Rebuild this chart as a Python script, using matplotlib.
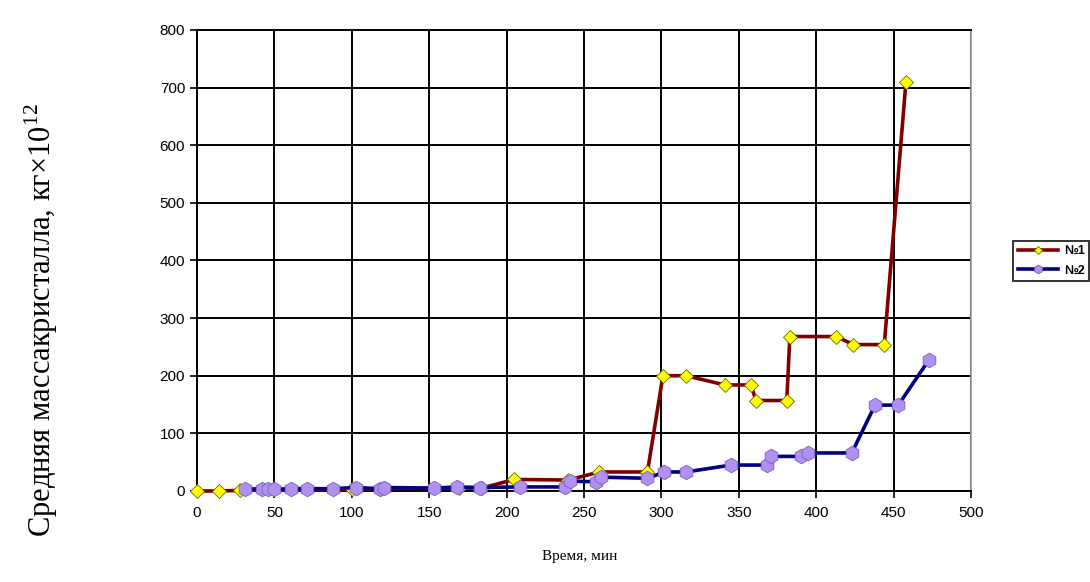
import matplotlib
matplotlib.use("Agg")
import matplotlib.pyplot as plt

plt.rcParams["font.family"] = "Liberation Sans"
plt.rcParams["mathtext.fontset"] = "custom"
plt.rcParams["mathtext.rm"] = "Liberation Serif"

# ── data ──────────────────────────────────────────────────────────────────────
t1 = [0, 14, 28, 100, 118, 169, 184, 205, 240, 260, 291, 301, 316, 341, 358,
      361, 381, 383, 413, 424, 444, 458]
m1 = [0, 0, 1, 3, 4, 5, 5, 20, 19, 33, 33, 200, 200, 184, 184,
      157, 157, 268, 268, 254, 254, 710]

t2 = [31, 42, 46, 50, 61, 71, 88, 103, 118, 121, 153, 168, 183, 209, 238, 241,
      258, 261, 291, 302, 316, 345, 368, 371, 390, 395, 423, 438, 453, 473]
m2 = [3, 4, 4, 3, 4, 4, 4, 6, 4, 6, 5, 7, 6, 7, 7, 17,
      16, 24, 22, 33, 33, 45, 45, 60, 60, 66, 66, 149, 149, 228]

names = ["№1", "№2"]
x_ticks = list(range(0, 501, 50))
y_ticks = list(range(0, 801, 100))

# ── layout ────────────────────────────────────────────────────────────────────
fig = plt.figure(figsize=(10.9, 5.82), dpi=100)
ax = fig.add_axes([0.1807, 0.1564, 0.8908 - 0.1807, 0.9485 - 0.1564])

ax.plot(t1, m1, color="#800000", linewidth=2.6, marker="D", markersize=7.5,
        markerfacecolor="#FFFF00", markeredgecolor="#6b6b00",
        markeredgewidth=0.6, label=names[0], zorder=3, clip_on=False)
ax.plot(t2, m2, color="#000080", linewidth=2.6, marker="h", markersize=10.5,
        markerfacecolor="#B090F0", markeredgecolor="#7a5fc0",
        markeredgewidth=0.6, label=names[1], zorder=4, clip_on=False)

ax.set_xlim(0, 500)
ax.set_ylim(0, 800)
ax.set_xticks(x_ticks)
ax.set_yticks(y_ticks)
ax.tick_params(axis="both", direction="out", length=5, width=1.2,
               labelsize=11, color="black")
ax.tick_params(axis="x", pad=6)
ax.grid(True, color="black", linewidth=1.4)
ax.set_axisbelow(True)

for side in ["left", "bottom", "top"]:
    ax.spines[side].set_color("black")
    ax.spines[side].set_linewidth(1.4)
ax.spines["right"].set_color("#9a9a9a")
ax.spines["right"].set_linewidth(1.2)

fig.text(0.532, 0.043, "Время, мин", ha="center", va="center",
         fontsize=11, family="Liberation Serif")
fig.text(0.038, 0.45, "Средняя массакристалла, кг×10$^{12}$",
         rotation=90, ha="center", va="center",
         fontsize=22, family="Liberation Serif")

leg = ax.legend(loc="upper left", bbox_to_anchor=(0.924, 0.597),
                bbox_transform=fig.transFigure, frameon=True, fancybox=False,
                edgecolor="black", handlelength=3.2,
                borderpad=0.35, labelspacing=0.6, handletextpad=0.5,
                markerscale=0.6, prop={"weight": "bold", "size": 9})
leg.get_frame().set_linewidth(1.4)

plt.savefig("out.png", dpi=100)
